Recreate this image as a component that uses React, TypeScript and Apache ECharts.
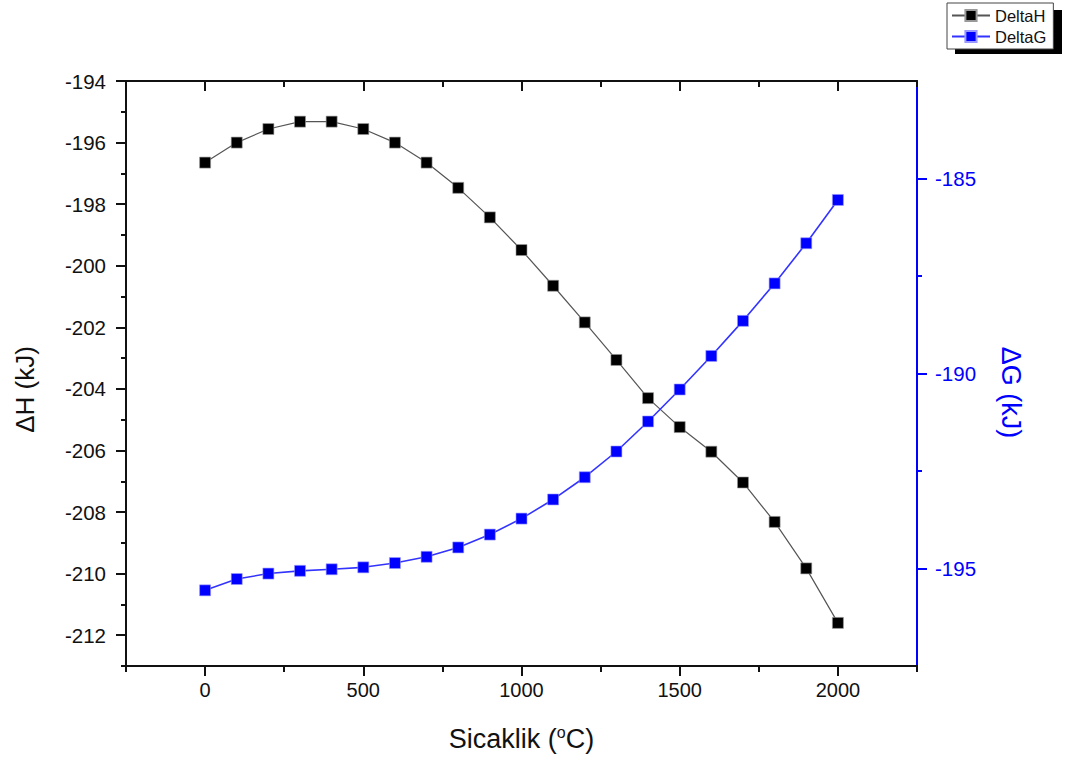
import React, { useEffect, useRef } from "react";
import * as echarts from "echarts";

const temperatures = [0, 100, 200, 300, 400, 500, 600, 700, 800, 900, 1000, 1100, 1200, 1300, 1400, 1500, 1600, 1700, 1800, 1900, 2000];
const deltaH = [-196.65, -196.0, -195.56, -195.32, -195.32, -195.56, -196.0, -196.65, -197.47, -198.43, -199.49, -200.65, -201.84, -203.06, -204.3, -205.24, -206.04, -207.04, -208.32, -209.83, -211.6];
const deltaG = [-195.56, -195.27, -195.13, -195.06, -195.02, -194.97, -194.86, -194.7, -194.46, -194.13, -193.72, -193.23, -192.66, -192.0, -191.23, -190.41, -189.55, -188.65, -187.69, -186.66, -185.55];

const xLabelValues = [0, 500, 1000, 1500, 2000];
const xMinorTicks = [-250, 250, 750, 1250, 1750, 2250];
const hLabelValues = [-212, -210, -208, -206, -204, -202, -200, -198, -196, -194];
const hMinorTicks = [-213, -211, -209, -207, -205, -203, -201, -199, -197, -195];
const gLabelValues = [-195, -190, -185];
const gMinorTicks = [-192.5, -187.5];

const FONT = "'Liberation Sans', Arial, sans-serif";
const BLUE = "#0000ff";
const plain = (v: number) => String(v);

export default function App() {
  const ref = useRef<HTMLDivElement>(null);
  useEffect(() => {
    if (!ref.current) return;
    const chart = echarts.init(ref.current, undefined, { renderer: "svg" });
    const xBase = { type: "value", min: -250, max: 2250, interval: 250, splitLine: { show: false } };
    const hBase = { type: "value", min: -213, max: -194, interval: 1, splitLine: { show: false } };
    const gBase = { type: "value", min: -197.5, max: -182.5, interval: 2.5, splitLine: { show: false } };
    chart.setOption({
      animation: false,
      backgroundColor: "#ffffff",
      textStyle: { fontFamily: FONT },
      grid: { left: 126, right: 149, top: 81, bottom: 101, containLabel: false },
      legend: {
        orient: "vertical",
        left: 947,
        top: 3,
        padding: [4, 7, 4, 4],
        itemGap: 4,
        itemWidth: 38,
        itemHeight: 14,
        backgroundColor: "#ffffff",
        borderColor: "#444",
        borderWidth: 1,
        z: 10,
        textStyle: { fontSize: 16.5, color: "#111", fontFamily: FONT },
        data: ["DeltaH", "DeltaG"],
      },
      graphic: [
        { type: "rect", left: 955, top: 10, z: 0, shape: { width: 107, height: 44 }, style: { fill: "#000" } },
      ],
      xAxis: [
        {
          ...xBase,
          position: "bottom",
          name: "Sicaklik ({sup|o}C)",
          nameLocation: "middle",
          nameGap: 58,
          nameTextStyle: {
            fontSize: 27,
            color: "#111",
            fontFamily: FONT,
            rich: { sup: { fontSize: 16, verticalAlign: "top", padding: [0, 0, 14, 0], color: "#111", fontFamily: FONT } },
          },
          axisLine: { show: true, onZero: false, lineStyle: { color: "#111", width: 2 } },
          axisTick: { show: true, inside: false, length: 10, customValues: xLabelValues, lineStyle: { color: "#111", width: 2 } },
          axisLabel: { show: true, customValues: xLabelValues, formatter: plain, fontSize: 20, color: "#111", margin: 14, fontFamily: FONT },
        },
        {
          ...xBase,
          position: "bottom",
          axisLine: { show: false, onZero: false },
          axisTick: { show: true, inside: false, length: 6, customValues: xMinorTicks, lineStyle: { color: "#111", width: 2 } },
          axisLabel: { show: false },
        },
        {
          ...xBase,
          position: "top",
          axisLine: { show: true, onZero: false, lineStyle: { color: "#111", width: 2 } },
          axisTick: { show: true, inside: true, length: 10, customValues: xLabelValues, lineStyle: { color: "#111", width: 2 } },
          axisLabel: { show: false },
        },
        {
          ...xBase,
          position: "top",
          axisLine: { show: false, onZero: false },
          axisTick: { show: true, inside: true, length: 6, customValues: xMinorTicks, lineStyle: { color: "#111", width: 2 } },
          axisLabel: { show: false },
        },
      ],
      yAxis: [
        {
          ...hBase,
          position: "left",
          name: "ΔH (kJ)",
          nameLocation: "middle",
          nameGap: 88,
          nameTextStyle: { fontSize: 26, color: "#111", fontFamily: FONT, padding: [0, 32, 0, 0] },
          axisLine: { show: true, onZero: false, lineStyle: { color: "#111", width: 2 } },
          axisTick: { show: true, inside: false, length: 10, customValues: hLabelValues, lineStyle: { color: "#111", width: 2 } },
          axisLabel: { show: true, customValues: hLabelValues, formatter: plain, fontSize: 20.5, color: "#111", margin: 20, fontFamily: FONT },
        },
        {
          ...hBase,
          position: "left",
          axisLine: { show: false, onZero: false },
          axisTick: { show: true, inside: false, length: 5, customValues: hMinorTicks, lineStyle: { color: "#111", width: 2 } },
          axisLabel: { show: false },
        },
        {
          ...gBase,
          position: "right",
          name: "ΔG (kJ)",
          nameLocation: "middle",
          nameRotate: -90,
          nameGap: 80,
          nameTextStyle: { fontSize: 27, color: BLUE, fontFamily: FONT, padding: [0, 0, 0, 38] },
          axisLine: { show: true, onZero: false, lineStyle: { color: BLUE, width: 2 } },
          axisTick: { show: true, inside: false, length: 10, customValues: gLabelValues, lineStyle: { color: BLUE, width: 2 } },
          axisLabel: { show: true, customValues: gLabelValues, formatter: plain, fontSize: 20.5, color: BLUE, margin: 18, fontFamily: FONT },
        },
        {
          ...gBase,
          position: "right",
          axisLine: { show: false, onZero: false },
          axisTick: { show: true, inside: false, length: 5, customValues: gMinorTicks, lineStyle: { color: BLUE, width: 2 } },
          axisLabel: { show: false },
        },
      ],
      series: [
        {
          name: "DeltaH",
          type: "line",
          xAxisIndex: 0,
          yAxisIndex: 0,
          data: temperatures.map((t, i) => [t, deltaH[i]]),
          symbol: "rect",
          symbolSize: 11,
          lineStyle: { color: "#555", width: 1.2 },
          itemStyle: { color: "#000", borderColor: "#999", borderWidth: 0.6 },
        },
        {
          name: "DeltaG",
          type: "line",
          xAxisIndex: 0,
          yAxisIndex: 2,
          data: temperatures.map((t, i) => [t, deltaG[i]]),
          symbol: "rect",
          symbolSize: 11,
          lineStyle: { color: "#3333ff", width: 1.6 },
          itemStyle: { color: BLUE, borderColor: "#99f", borderWidth: 0.6 },
        },
      ],
    });
    return () => chart.dispose();
  }, []);
  return <div ref={ref} style={{ position: "fixed", left: 0, top: 0, width: 1066, height: 767 }} />;
}
